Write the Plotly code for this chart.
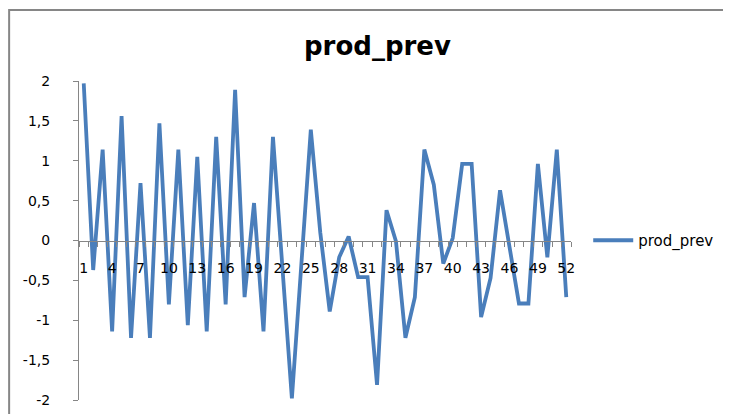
import plotly.graph_objects as go

## DATA
periods = list(range(1, 53))
prod_prev = [1.97, -0.37, 1.14, -1.14, 1.56, -1.22, 0.72, -1.22, 1.47, -0.80,
             1.14, -1.06, 1.05, -1.14, 1.30, -0.80, 1.89, -0.71, 0.47, -1.14,
             1.30, -0.34, -1.98, -0.30, 1.39, 0.10, -0.89, -0.21, 0.05, -0.46,
             -0.46, -1.81, 0.38, -0.01, -1.22, -0.71, 1.14, 0.70, -0.29, 0.03,
             0.96, 0.96, -0.96, -0.47, 0.63, -0.08, -0.79, -0.79, 0.96, -0.21,
             1.14, -0.71]
y_ticks = [2, 1.5, 1, 0.5, 0, -0.5, -1, -1.5, -2]
y_labels = ["2", "1,5", "1", "0,5", "0", "-0,5", "-1", "-1,5", "-2"]

## PLOT
# the page body adds 8px around the figure, so the figure is 8px smaller
fig = go.Figure()
fig.add_trace(go.Scatter(x=periods, y=prod_prev, mode="lines", name="prod_prev",
                         line=dict(color="#4A7EBB", width=3.8)))

fig.update_layout(
    width=723, height=406,
    margin=dict(l=71, r=160, t=73, b=14, autoexpand=False),
    paper_bgcolor="white", plot_bgcolor="white",
    font=dict(family="DejaVu Sans", size=14, color="black"),
    title=dict(text="<b>prod_prev</b>", xref="container", x=0.511, y=0.907,
               xanchor="center", yanchor="middle", automargin=False,
               font=dict(family="DejaVu Sans", size=26)),
    showlegend=True,
    legend=dict(x=1.035, y=0.5, xanchor="left", yanchor="middle", itemwidth=40,
                font=dict(size=15), bgcolor="rgba(0,0,0,0)"),
)

fig.update_yaxes(range=[-2, 2], tickvals=y_ticks, ticktext=y_labels,
                 showgrid=False, zeroline=False, showline=True, automargin=False,
                 linecolor="#868686", linewidth=1, ticks="outside",
                 tickcolor="#868686", ticklen=5, ticklabelstandoff=20)

fig.update_xaxes(range=[0.5, 52.5], anchor="free", position=0.5,
                 tickmode="linear", tick0=1, dtick=3, automargin=False,
                 showgrid=False, zeroline=False, showline=True,
                 linecolor="#868686", linewidth=1, ticks="", ticklabelstandoff=15,
                 minor=dict(tickmode="linear", tick0=0.5, dtick=1,
                            ticks="outside", ticklen=5, tickcolor="#868686"))

# outer chart border
fig.add_shape(type="rect", xref="paper", yref="paper",
              x0=-0.142, x1=1.323, y0=-0.05, y1=1.2226,
              line=dict(color="#868686", width=2), fillcolor="rgba(0,0,0,0)")

fig.write_html("out.html")
